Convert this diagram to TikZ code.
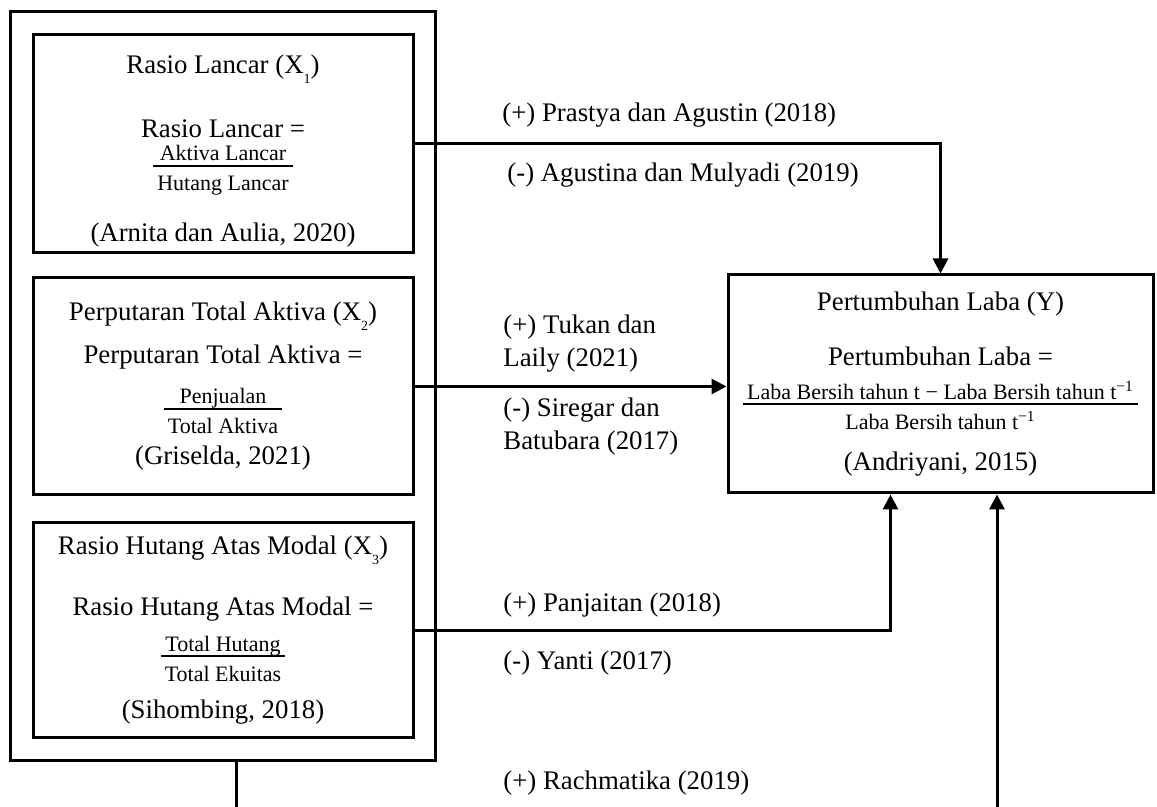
\documentclass[tikz,border=0pt]{standalone}
\usepackage{fontspec}
\setmainfont{Liberation Serif}
\usetikzlibrary{arrows.meta,fit,positioning}

\newcommand{\ratio}[2]{{\fontsize{11pt}{13pt}\selectfont\setlength{\arrayrulewidth}{1pt}%
    \begin{tabular}{@{\hspace{2pt}}c@{\hspace{2pt}}}#1\\[-2pt]\hline\rule{0pt}{12pt}#2\end{tabular}}}
\newcommand{\lowsub}[1]{\raisebox{-5pt}{\fontsize{7pt}{7pt}\selectfont #1}}

\tikzset{
    varbox/.style={draw, line width=1.5pt, align=center, minimum width=190pt, inner sep=0pt},
    cite/.style={anchor=west, align=left, inner sep=0pt},
    arr/.style={line width=1.5pt, -{Triangle[length=7.5pt,width=7.5pt]}},
}

\begin{document}
\begin{tikzpicture}[x=0.5pt, y=-0.5pt, font=\fontsize{13.4pt}{16.5pt}\selectfont]
        \useasboundingbox (0,0) rectangle (1157,807);

        \node[varbox, minimum height=109pt] (x1) at (223,144)
            {\rule{0pt}{16.2pt}Rasio Lancar (X\lowsub{1})\\[15.5pt]
             Rasio Lancar =\\[1.5pt]
             \ratio{Aktiva Lancar}{Hutang Lancar}\\[11pt]
             (Arnita dan Aulia, 2020)};
        \node[varbox, minimum height=108.5pt] (x2) at (223,386.5)
            {Perputaran Total Aktiva (X\lowsub{2})\\[5pt]
             Perputaran Total Aktiva =\\[7pt]
             \ratio{Penjualan}{Total Aktiva}\\[1.5pt]
             (Griselda, 2021)};
        \node[varbox, minimum height=107pt] (x3) at (223,630)
            {Rasio Hutang Atas Modal (X\lowsub{3})\\[14pt]
             Rasio Hutang Atas Modal =\\[5pt]
             \ratio{Total Hutang}{Total Ekuitas}\\[4.5pt]
             (Sihombing, 2018)};
        \node[draw, line width=1.5pt, fit=(x1)(x2)(x3), inner xsep=10.5pt, inner ysep=11pt] (frame) {};

        \node[varbox, minimum width=212.5pt, minimum height=109pt] (y) at (940.5,384)
            {Pertumbuhan Laba (Y)\\[11pt]
             Pertumbuhan Laba =\\[7pt]
             \ratio{Laba Bersih tahun t − Laba Bersih tahun t\textsuperscript{−1}}{Laba Bersih tahun t\textsuperscript{−1}}\\[6.5pt]
             (Andriyani, 2015)};

        \coordinate (lowstub) at (236,807);
        \coordinate (lowend) at (997,807);

        \draw [arr] (x1.east) -| (y.north);
        \draw [arr] (x2.east) -- (x2.east -| y.west);
        \draw [arr] (x3.east) -| ([xshift=-25pt]y.south);
        \draw [line width=1.5pt] (frame.south -| lowstub) -- (lowstub);
        \draw [arr] (lowend) -- (lowend |- y.south);

        \node[cite] (p1) at (502,115) {(+) Prastya dan Agustin (2018)};
        \node[cite] (m1) at (507,175) {(-) Agustina dan Mulyadi (2019)};
        \node[cite] (p2) at (503,343.5) {(+) Tukan dan\\Laily (2021)};
        \node[cite] (m2) at (503,426.5) {(-) Siregar dan\\Batubara (2017)};
        \node[cite] (p3) at (503,605) {(+) Panjaitan (2018)};
        \node[cite] (m3) at (503,663) {(-) Yanti (2017)};
        \node[cite] (p4) at (503,783) {(+) Rachmatika (2019)};
    \end{tikzpicture}
\end{document}
